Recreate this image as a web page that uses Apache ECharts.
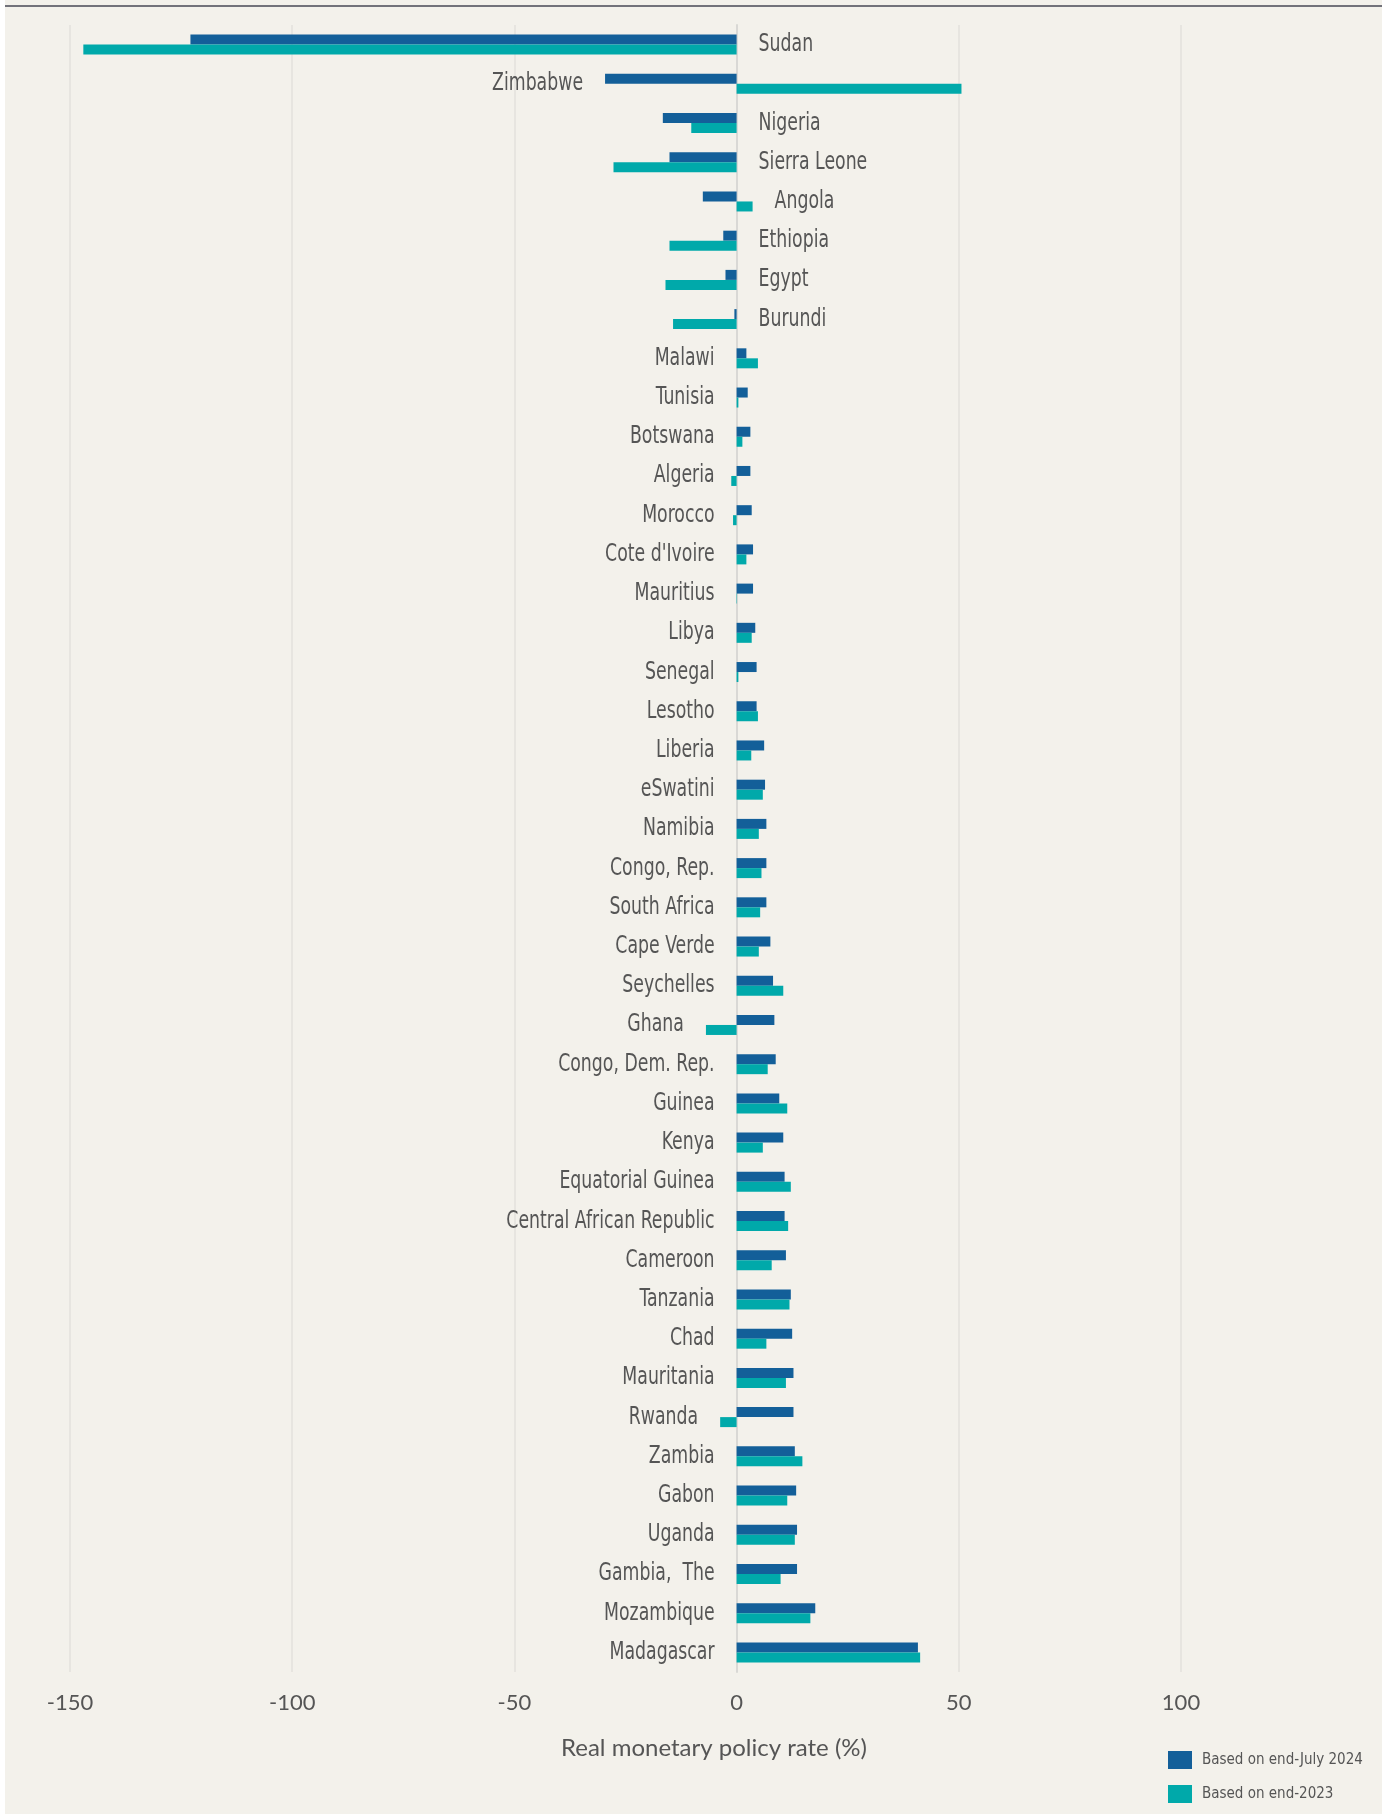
<!DOCTYPE html>
<html>
<head>
<meta charset="utf-8">
<script src="https://cdn.jsdelivr.net/npm/echarts@6/dist/echarts.min.js"></script>
<style>
html,body{margin:0;padding:0;background:#ffffff;}
#chart{width:1389px;height:1814px;}
</style>
</head>
<body>
<div id="chart"></div>
<script>
const countries = ["Sudan","Zimbabwe","Nigeria","Sierra Leone","Angola","Ethiopia","Egypt","Burundi","Malawi","Tunisia","Botswana","Algeria","Morocco","Cote d'Ivoire","Mauritius","Libya","Senegal","Lesotho","Liberia","eSwatini","Namibia","Congo, Rep.","South Africa","Cape Verde","Seychelles","Ghana","Congo, Dem. Rep.","Guinea","Kenya","Equatorial Guinea","Central African Republic","Cameroon","Tanzania","Chad","Mauritania","Rwanda","Zambia","Gabon","Uganda","Gambia,  The","Mozambique","Madagascar"];
const endJuly2024 = [-122.9,-29.6,-16.6,-15.1,-7.6,-3.0,-2.5,-0.5,2.2,2.5,3.1,3.1,3.4,3.7,3.7,4.2,4.5,4.5,6.2,6.4,6.7,6.7,6.7,7.6,8.2,8.5,8.8,9.6,10.5,10.8,10.8,11.1,12.2,12.5,12.8,12.8,13.1,13.4,13.6,13.6,17.7,40.8];
const end2023 = [-147.0,50.6,-10.2,-27.7,3.6,-15.1,-16.0,-14.3,4.8,0.4,1.3,-1.2,-0.8,2.2,0.1,3.4,0.4,4.8,3.3,5.9,5.0,5.6,5.3,5.0,10.5,-6.9,7.0,11.4,5.9,12.2,11.6,7.9,11.9,6.7,11.1,-3.7,14.8,11.4,13.1,9.9,16.6,41.3];
const xTicks = [-150,-100,-50,0,50,100];
const seriesNames = ["Based on end-July 2024","Based on end-2023"];
const axisTitle = "Real monetary policy rate (%)";

const BLUE = '#135F99', TEAL = '#00A9AA';
const LABEL_FONT = '25px "DejaVu Sans Condensed", "Liberation Sans Narrow", "Noto Sans", sans-serif';

// label anchor / side derived from the data
const labelData = countries.map((c, i) => {
  const b = endJuly2024[i], t = end2023[i];
  let side, anchor;
  if (b < 0) {
    if (t > 20) { side = -1; anchor = Math.min(b, t, 0); }
    else { side = 1; anchor = Math.max(0, t); }
  } else {
    side = -1; anchor = t < -2 ? t : 0;
  }
  return [anchor, i, side];
});

const chart = echarts.init(document.getElementById('chart'), null, {renderer: 'canvas'});
chart.setOption({
  animation: false,
  backgroundColor: 'transparent',
  graphic: [
    {type: 'rect', z: -10, shape: {x: 5, y: 0, width: 1377, height: 1814}, style: {fill: '#F3F1EB'}, silent: true},
    {type: 'line', z: -9, shape: {x1: 5, y1: 6, x2: 1382, y2: 6}, style: {stroke: '#72727A', lineWidth: 2}, silent: true}
  ],
  grid: {left: 70, top: 25, width: 1111, height: 1647, containLabel: false},
  legend: {
    orient: 'vertical', left: 1168, top: 1751, padding: 0,
    itemWidth: 24, itemHeight: 18, itemGap: 16,
    icon: 'rect',
    data: seriesNames,
    textStyle: {color: '#555555', fontSize: 15, fontFamily: '"DejaVu Sans Condensed", sans-serif', padding: [0,0,0,5]}
  },
  xAxis: {
    type: 'value', min: xTicks[0], max: xTicks[xTicks.length-1], interval: 50,
    axisLine: {show: false}, axisTick: {show: false},
    splitLine: {show: true, lineStyle: {color: '#E3E1DC', width: 1.5}},
    axisLabel: {color: '#555555', fontSize: 22, fontFamily: 'Lato, "Liberation Sans", sans-serif', margin: 20},
    name: axisTitle, nameLocation: 'middle', nameGap: 64,
    nameTextStyle: {color: '#555555', fontSize: 24, fontFamily: 'Lato, "Liberation Sans", sans-serif', padding: [0,0,0,177]}
  },
  yAxis: {
    type: 'category', data: countries, inverse: true,
    axisLine: {show: true, onZero: true, lineStyle: {color: '#D9D8D5', width: 2}},
    axisTick: {show: false}, axisLabel: {show: false}, splitLine: {show: false}
  },
  series: [
    {name: seriesNames[0], type: 'bar', data: endJuly2024, barWidth: 10, barGap: '0%', itemStyle: {color: BLUE}},
    {name: seriesNames[1], type: 'bar', data: end2023, barWidth: 10, barGap: '0%', itemStyle: {color: TEAL}},
    {
      type: 'custom', silent: true, clip: false, z: 5,
      encode: {x: 0, y: 1},
      data: labelData,
      renderItem: function (params, api) {
        const anchor = api.value(0), idx = api.value(1), side = api.value(2);
        const p = api.coord([anchor, idx]);
        return {
          type: 'text',
          x: p[0] + side * 22,
          y: p[1],
          scaleX: 0.77,
          style: {
            text: countries[idx],
            fill: '#555555',
            font: LABEL_FONT,
            align: side > 0 ? 'left' : 'right',
            verticalAlign: 'middle'
          }
        };
      }
    }
  ]
});
</script>
</body>
</html>
